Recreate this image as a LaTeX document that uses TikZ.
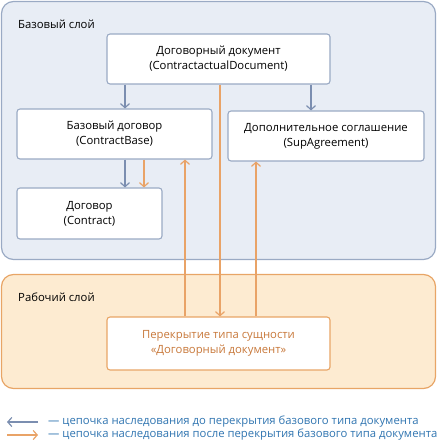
\documentclass[tikz,border=0pt]{standalone}
\usepackage{fontspec}
\setmainfont{Open Sans}
\usepackage{xcolor}
\definecolor{colorBaseFill}{HTML}{E8EDF5}
\definecolor{colorBaseLine}{HTML}{9AAAC4}
\definecolor{colorWorkFill}{HTML}{FDEBD1}
\definecolor{colorWorkLine}{HTML}{E8A566}
\definecolor{colorBlueArrow}{HTML}{7B8EB0}
\definecolor{colorOrangeArrow}{HTML}{E9A367}
\definecolor{colorOrangeText}{HTML}{C8783A}
\definecolor{colorLegend}{HTML}{2F74B0}
\usetikzlibrary{arrows.meta, positioning}
\tikzset{
  layer/.style={draw, rounded corners=12bp, line width=1.2bp, inner sep=0pt},
  entity/.style={draw=colorBaseLine, fill=white, rounded corners=3bp, line width=1.1bp, align=center, inner sep=0pt},
  inh/.style={colorBlueArrow, line width=1.2bp, -{Straight Barb[length=4bp, width=9bp]}},
  ovr/.style={colorOrangeArrow, line width=1.2bp, -{Straight Barb[length=4bp, width=9bp]}},
}
\begin{document}
\begin{tikzpicture}[x=1bp, y=-1bp, every node/.style={font=\fontsize{11.3bp}{15bp}\selectfont}]
\useasboundingbox (0,0) rectangle (437,447);
% layers
\node[layer, draw=colorBaseLine, fill=colorBaseFill, minimum width=434bp, minimum height=258bp] (baseLayer) at (218.5,130.5) {};
\node[layer, draw=colorWorkLine, fill=colorWorkFill, minimum width=434bp, minimum height=114bp] (workLayer) at (218.5,331.5) {};
\node[anchor=west, inner sep=0pt] (baseTitle) at (18,24) {Базовый слой};
\node[anchor=west, inner sep=0pt] (workTitle) at (18,297) {Рабочий слой};
% entity types
\node[entity, minimum width=223bp, minimum height=50bp] (doc) at (218.5,59) {Договорный документ\\(ContractactualDocument)};
\node[entity, minimum width=195bp, minimum height=50bp] (base) at (114.5,134) {Базовый договор\\(ContractBase)};
\node[entity, minimum width=196bp, minimum height=50bp] (sup) at (326,136) {Дополнительное соглашение\\(SupAgreement)};
\node[entity, minimum width=145bp, minimum height=51bp] (contract) at (89.5,213.5) {Договор\\(Contract)};
\node[entity, draw=colorWorkLine, text=colorOrangeText, minimum width=223bp, minimum height=53bp] (over) at (218.5,343.5) {Перекрытие типа сущности\\«Договорный документ»};
% inheritance before override
\draw[inh] ([xshift=-93.5bp]doc.south) -- ([xshift=-93.5bp]doc.south |- base.north);
\draw[inh] ([xshift=92.5bp]doc.south) -- ([xshift=92.5bp]doc.south |- sup.north);
\draw[inh] ([xshift=10.5bp]base.south) -- ([xshift=10.5bp]base.south |- contract.north);
% inheritance after override
\draw[ovr] ([xshift=1.5bp]doc.south) -- ([xshift=1.5bp]doc.south |- over.north);
\draw[ovr] ([xshift=29.5bp]base.south) -- ([xshift=29.5bp]base.south |- contract.north);
\draw[ovr] ([xshift=-33.5bp]over.north) -- ([xshift=-33.5bp]over.north |- base.south);
\draw[ovr] ([xshift=37.5bp]over.north) -- ([xshift=37.5bp]over.north |- sup.south);
% legend
\node[anchor=west, inner sep=0pt, text=colorLegend] (legBefore) at (48,422) {— цепочка наследования до перекрытия базового типа документа};
\node[anchor=west, inner sep=0pt, text=colorLegend] (legAfter) at (48,435) {— цепочка наследования после перекрытия базового типа документа};
\coordinate (legBeforeEnd) at (7,422);
\coordinate (legAfterStart) at (7,435);
\draw[inh] ([xshift=-10bp]legBefore.west) -- (legBeforeEnd);
\draw[ovr] (legAfterStart) -- ([xshift=-10bp]legAfter.west);
\end{tikzpicture}
\end{document}
